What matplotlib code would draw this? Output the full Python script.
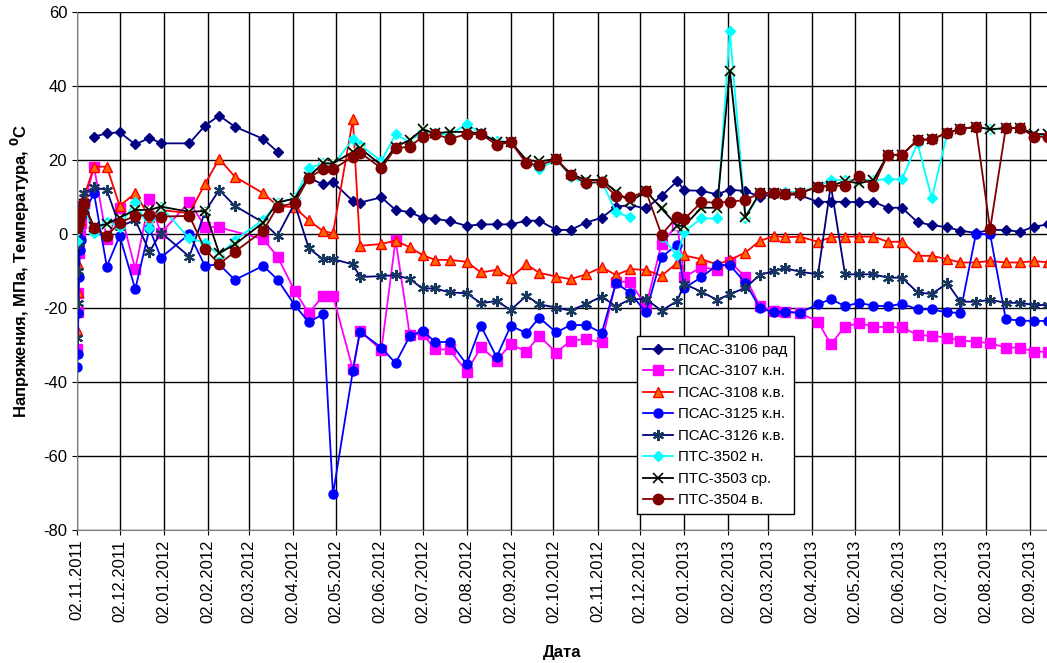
import numpy as np
import matplotlib
matplotlib.use('Agg')
import matplotlib.pyplot as plt

plt.rcParams['font.family'] = ['Liberation Sans', 'DejaVu Sans']
plt.rcParams['axes.unicode_minus'] = False

N = None            # no reading on that date (line goes on)
nan = float('nan')  # break in the line

start = np.datetime64('2011-11-02')

# days since 02.11.2011
days = [0, 0.5, 1, 1.5, 2, 3, 5,
        12, 21, 30, 41, 51, 59, 79, 90, 100, 111,
        131, 141, 153, 163, 173, 180, 194, 199, 214, 224,
        234, 243, 252, 262, 274, 284, 295, 305, 316, 325,
        337, 347, 358, 369, 379, 389, 400, 411, 422, 427,
        439, 450, 459, 470, 480, 490, 498, 508, 521, 530,
        540, 550, 560, 570, 580, 591, 601, 612, 621, 632,
        642, 653, 663, 673, 683]

psas3106 = [N, N, N, N, N, N, N,
            26.3, 27.2, 27.5, 24.2, 26.0, 24.5, 24.5, 29.3, 32.0, 29.0,
            25.7, 22.2, nan, 15.2, 13.4, 14.0, 8.9, 8.5, 9.9, 6.5,
            5.9, 4.4, 4.1, 3.5, 2.2, 2.6, 2.6, 2.6, 3.6, 3.6,
            1.1, 1.1, 3.1, 4.4, 7.4, 7.8, 6.9, 10.3, 14.3, 11.8,
            11.7, 10.7, 12.0, 11.6, 10.1, 10.7, 10.8, 10.5, 8.7, 8.7,
            8.7, 8.6, 8.7, 7.1, 7.1, 3.2, 2.4, 1.8, 0.9, 0.3,
            1.1, 1.1, 0.6, 2.0, 2.6]

psas3107 = [-31, -21, -16, -5, 0, 3, 8,
            18.2, -1.4, 7.0, -9.5, 9.4, 0.2, 8.7, 2.0, 1.8, N,
            -1.4, -6.1, -15.3, -21.4, -16.7, -16.7, -36.6, -26.2, -31.4, -1.6,
            -27.3, -27.0, -31.2, -31.2, -37.2, -30.6, -34.2, -29.8, -31.8, -27.5,
            -32.1, -28.8, -28.4, -29.3, -12.9, -12.9, -19.6, -2.6, 2.5, -11.6,
            -9.0, -9.6, -7.5, -11.6, -19.5, -20.7, -21.1, -21.3, -23.7, -29.8,
            -25.0, -24.1, -25.0, -25.2, -25.2, -27.3, -27.5, -28.0, -28.8, -29.1,
            -29.5, -30.7, -30.7, -31.8, -31.8]

psas3108 = [-26, -15.6, -8, -2, 3.8, 8, 10.1,
            18.2, 18.2, 7.6, 11.0, 4.6, 6.5, 5.6, 13.5, 20.3, 15.5,
            11.0, 7.6, 7.2, 3.7, 0.8, 0.2, 31.0, -3.2, -2.7, -1.8,
            -3.6, -5.7, -7.0, -7.0, -7.5, -10.4, -9.7, -11.8, -8.2, -10.5,
            -11.5, -12.2, -10.9, -9.0, -11.1, -9.5, -9.7, -11.3, -7.8, -5.8,
            -6.8, -8.2, -7.0, -5.0, -1.9, -0.5, -0.9, -0.7, -2.1, -0.9,
            -0.7, -0.7, -0.7, -2.1, -2.1, -5.9, -5.9, -6.8, -7.7, -7.7,
            -7.3, -7.7, -7.7, -7.3, -7.7]

psas3125 = [-36, -32.4, -21.4, -11.5, -4.3, -1.6, 5.6,
            11.0, -8.8, -0.5, -14.9, 1.5, -6.4, 0.0, -8.6, -8.2, -12.4,
            -8.6, -12.3, -19.2, -23.8, -21.7, -70.4, -36.9, -26.4, -30.7, -34.9,
            -27.6, -26.1, -29.3, -29.1, -35.2, -24.8, -33.3, -24.8, -26.8, -22.6,
            -26.6, -24.6, -24.6, -26.7, -13.2, -15.9, -21.2, -6.2, -2.9, -14.6,
            -11.7, -8.4, -8.4, -13.2, -19.9, -21.2, -21.0, -21.3, -19.0, -17.6,
            -19.5, -18.6, -19.4, -19.5, -18.9, -20.3, -20.4, -21.2, -21.3, 0.0,
            0.0, -23.0, -23.4, -23.5, -23.5]

psas3126 = [-28.2, -18.7, -10, -2.5, 5.1, 8, 11,
            12.6, 11.9, 2.0, 3.8, -4.8, 0.4, -6.1, 6.0, 11.9, 7.6,
            3.1, -0.5, 8.3, -3.9, -6.8, -6.8, -8.2, -11.6, -11.4, -11.1,
            -12.2, -14.7, -14.7, -15.8, -16.0, -18.7, -18.1, -20.5, -16.7, -19.0,
            -19.9, -20.7, -18.9, -16.9, -19.6, -17.6, -17.6, -20.7, -18.1, -13.5,
            -15.6, -17.8, -16.3, -14.5, -11.1, -10.0, -9.2, -10.2, -10.9, 13.2,
            -10.9, -10.9, -10.9, -11.8, -11.8, -15.8, -16.2, -13.3, -18.3, -18.3,
            -17.8, -18.6, -18.6, -19.2, -19.2]

ptc3502 = [-2, 1, 3, 4, 5, 6, 7,
           0.2, 3.3, 2.0, 8.7, 1.5, 7.4, -1.2, -2.3, -5.9, -1.6,
           3.8, 8.5, 9.6, 17.8, 19.1, 18.6, 25.6, 24.1, 19.7, 26.9,
           24.9, 27.9, 27.2, 26.8, 29.7, 27.2, 25.2, 24.8, 19.5, 17.5,
           20.2, 15.5, 13.5, 14.1, 5.9, 4.5, nan, -0.7, -5.8, 0.6,
           4.2, 4.2, 54.9, 4.2, 11.0, 11.0, 11.4, 11.4, 12.8, 14.6,
           14.6, 14.6, 14.6, 14.8, 14.8, 24.5, 9.6, 27.4, 28.3, 29.0,
           28.3, 28.6, 28.7, 26.5, 26.5]

ptc3503 = [1, 2, 3, 4, 5, 6, 8,
           2.0, 2.7, 4.4, 6.5, 6.5, 7.4, 6.0, 6.2, -5.2, -2.8,
           3.1, 8.5, 9.6, 15.5, 19.1, 19.1, 22.2, 23.2, 18.6, 23.6,
           25.4, 28.3, 27.2, 27.6, 27.6, 27.2, 24.9, 24.9, 20.0, 19.6,
           20.3, 16.2, 14.6, 14.6, 11.4, 8.7, 11.6, 6.9, 2.2, 2.2,
           7.1, 7.1, 44.1, 4.7, 11.0, 11.0, 10.7, 11.0, 12.8, 13.0,
           14.3, 13.7, 14.6, 21.4, 21.4, 25.4, 25.6, 27.4, 28.3, 29.0,
           28.3, 28.6, 28.7, 27.0, 27.0]

ptc3504 = [1.5, 2.5, 3, 4, 5, 6, 8,
           1.5, -0.5, 3.1, 4.9, 5.1, 4.7, 4.9, -4.1, -8.1, -4.8,
           0.9, 7.4, 8.3, 15.2, 17.5, 17.5, 20.9, 22.0, 17.8, 23.2,
           23.6, 26.3, 27.0, 25.7, 27.0, 27.0, 24.1, 24.8, 19.1, 18.6,
           20.2, 15.9, 13.9, 14.0, 10.3, 9.9, 11.6, -0.2, 4.7, 4.0,
           8.6, 8.5, 8.7, 9.2, 11.0, 11.0, 10.9, 11.0, 12.8, 13.0,
           13.1, 15.7, 13.0, 21.4, 21.4, 25.4, 25.6, 27.4, 28.3, 29.0,
           1.3, 28.6, 28.7, 26.3, 26.3]

# monthly ticks on the 2nd
tick_dates = np.arange('2011-11', '2013-10', dtype='datetime64[M]').astype('datetime64[D]') + 1
tick_pos = (tick_dates - start).astype(int)
tick_labels = [str(d)[8:10] + '.' + str(d)[5:7] + '.' + str(d)[0:4] for d in tick_dates]


def xy(vals):
    x = [d for d, v in zip(days, vals) if v is not None]
    y = [v for v in vals if v is not None]
    return x, y


fig = plt.figure(figsize=(10.47, 6.63), dpi=100)
ax = fig.add_axes([0.0735, 0.2006, 0.9265, 0.7813])

lw = 1.3
h1, = ax.plot(*xy(psas3106), color='#000080', lw=lw, marker='D', ms=5,
              label='ПСАС-3106 рад')
h2, = ax.plot(*xy(psas3107), color='#FF00FF', lw=lw, marker='s', ms=6.5,
              label='ПСАС-3107 к.н.')
h3, = ax.plot(*xy(psas3108), color='#FF0000', lw=lw, marker='^', ms=7,
              mfc='#FF6600', mec='#FF0000', label='ПСАС-3108 к.в.')
h4, = ax.plot(*xy(psas3125), color='#0000FF', lw=lw, marker='o', ms=6.5,
              label='ПСАС-3125 к.н.')
h5, = ax.plot(*xy(psas3126), color='#000080', lw=lw, marker=(6, 2, 0), ms=8,
              mec='#17375E', mew=1.5, label='ПСАС-3126 к.в.')
h6, = ax.plot(*xy(ptc3502), color='#00FFFF', lw=lw, marker='D', ms=5,
              label='ПТС-3502 н.')
ax.plot(*xy(ptc3503), ls='none', marker='s', ms=6, mfc='#CCFFCC', mec='none')
h7, = ax.plot(*xy(ptc3503), color='#000000', lw=lw, marker='x', ms=7, mew=1.2,
              label='ПТС-3503 ср.')
h8, = ax.plot(*xy(ptc3504), color='#800000', lw=lw, marker='o', ms=7.5,
              label='ПТС-3504 в.')

ax.set_xlim(0, 682)
ax.set_ylim(-80, 60)
ax.set_yticks(np.arange(-80, 61, 20))
ax.set_xticks(tick_pos)
ax.set_xticklabels(tick_labels, rotation=90, fontsize=12)
ax.tick_params(axis='y', labelsize=12)
ax.grid(True, color='black', lw=1.0)
ax.set_axisbelow(True)
for s in ['top', 'right']:
    ax.spines[s].set_visible(False)
ax.spines['left'].set_color('#808080')
ax.spines['bottom'].set_color('#808080')

ax.set_ylabel('Напряжения, МПа, Температура, $^\\mathbf{0}$C', fontsize=12,
              fontweight='bold', labelpad=8)
ax.set_xlabel('Дата', fontsize=12, fontweight='bold', labelpad=16)

leg = ax.legend(handles=[h1, h2, h3, h4, h5, h6, h7, h8], loc='lower left',
                bbox_to_anchor=(0.577, 0.0305), fontsize=10.8, fancybox=False,
                framealpha=1, edgecolor='black', labelspacing=0.5,
                handlelength=2.0, borderpad=0.45, handletextpad=0.3,
                borderaxespad=0)
leg.get_frame().set_linewidth(1.0)

plt.savefig('out.png', dpi=100)
